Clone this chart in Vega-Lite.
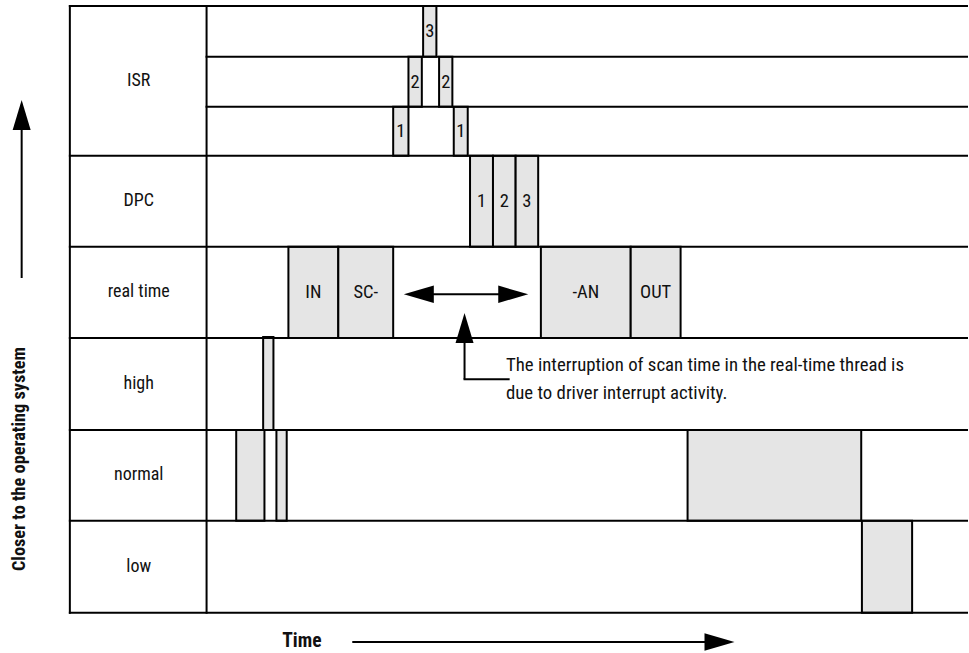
{
  "$schema": "https://vega.github.io/schema/vega-lite/v6.json",
  "width": 969,
  "height": 653,
  "autosize": {"type": "fit", "contains": "padding"},
  "padding": 0,
  "background": "white",
  "config": {"view": {"stroke": null}, "font": "Roboto Condensed, DejaVu Sans Condensed, sans-serif"},
  "datasets": {
    "blocks": [
      {"row": "ISR", "t0": 394, "t1": 409.3, "top": 106.7, "bottom": 155.7, "label": "1"},
      {"row": "ISR", "t0": 409.3, "t1": 422.7, "top": 56.7, "bottom": 106.7, "label": "2"},
      {"row": "ISR", "t0": 424, "t1": 437.3, "top": 6, "bottom": 56.7, "label": "3"},
      {"row": "ISR", "t0": 440, "t1": 453.3, "top": 56.7, "bottom": 106.7, "label": "2"},
      {"row": "ISR", "t0": 454.7, "t1": 468.7, "top": 106.7, "bottom": 155.7, "label": "1"},
      {"row": "DPC", "t0": 471, "t1": 494, "top": 155.7, "bottom": 246.7, "label": "1"},
      {"row": "DPC", "t0": 494, "t1": 516.7, "top": 155.7, "bottom": 246.7, "label": "2"},
      {"row": "DPC", "t0": 516.7, "t1": 539.3, "top": 155.7, "bottom": 246.7, "label": "3"},
      {"row": "real time", "t0": 289, "t1": 339, "top": 246.7, "bottom": 338, "label": "IN"},
      {"row": "real time", "t0": 339, "t1": 394, "top": 246.7, "bottom": 338, "label": "SC-"},
      {"row": "real time", "t0": 542, "t1": 632, "top": 246.7, "bottom": 338, "label": "-AN"},
      {"row": "real time", "t0": 632, "t1": 682, "top": 246.7, "bottom": 338, "label": "OUT"},
      {"row": "high", "t0": 263.7, "t1": 274, "top": 337, "bottom": 430, "label": ""},
      {"row": "normal", "t0": 236.7, "t1": 265, "top": 430, "bottom": 520.7, "label": ""},
      {"row": "normal", "t0": 277, "t1": 287.3, "top": 430, "bottom": 520.7, "label": ""},
      {"row": "normal", "t0": 689, "t1": 863, "top": 430, "bottom": 520.7, "label": ""},
      {"row": "low", "t0": 863.7, "t1": 914, "top": 520.7, "bottom": 612.7, "label": ""}
    ],
    "grid": [
      {"x0": 70, "x1": 969, "y0": 6, "y1": 6},
      {"x0": 207, "x1": 969, "y0": 56.7, "y1": 56.7},
      {"x0": 207, "x1": 969, "y0": 106.7, "y1": 106.7},
      {"x0": 70, "x1": 969, "y0": 155.7, "y1": 155.7},
      {"x0": 70, "x1": 969, "y0": 246.7, "y1": 246.7},
      {"x0": 70, "x1": 969, "y0": 338, "y1": 338},
      {"x0": 70, "x1": 969, "y0": 430, "y1": 430},
      {"x0": 70, "x1": 969, "y0": 520.7, "y1": 520.7},
      {"x0": 70, "x1": 969, "y0": 612.7, "y1": 612.7},
      {"x0": 70, "x1": 70, "y0": 6, "y1": 612.7},
      {"x0": 207, "x1": 207, "y0": 6, "y1": 612.7}
    ],
    "rows": [
      {"label": "ISR", "x": 139, "y": 81},
      {"label": "DPC", "x": 139, "y": 201},
      {"label": "real time", "x": 139, "y": 292},
      {"label": "high", "x": 139, "y": 384},
      {"label": "normal", "x": 139, "y": 475},
      {"label": "low", "x": 139, "y": 567}
    ],
    "shafts": [
      {"x0": 419, "x1": 515, "y0": 294.3, "y1": 294.3},
      {"x0": 465.5, "x1": 465.5, "y0": 335, "y1": 379.3},
      {"x0": 464.5, "x1": 510.7, "y0": 379.3, "y1": 379.3},
      {"x0": 21.7, "x1": 21.7, "y0": 120, "y1": 278},
      {"x0": 353, "x1": 722, "y0": 642, "y1": 642}
    ],
    "heads": [
      {"x": 419.7, "y": 294.3, "dir": "left"},
      {"x": 514.3, "y": 294.3, "dir": "right"},
      {"x": 465.5, "y": 328, "dir": "up"},
      {"x": 21.7, "y": 115, "dir": "up"},
      {"x": 721, "y": 642, "dir": "right"}
    ],
    "notes": [
      {"text": "The interruption of scan time in the real-time thread is", "x": 507, "y": 365},
      {"text": "due to driver interrupt activity.", "x": 507, "y": 393}
    ],
    "titles": [
      {"text": "Closer to the operating system", "x": 20, "y": 459, "angle": 270, "size": 18.3},
      {"text": "Time", "x": 302.5, "y": 641, "angle": 0, "size": 19.5}
    ]
  },
  "layer": [
    {
      "data": {"name": "blocks"},
      "mark": {"type": "rect", "fill": "#e5e5e5", "stroke": "black", "strokeWidth": 2},
      "encoding": {
        "x": {"field": "t0", "type": "quantitative", "scale": {"domain": [0, 969], "nice": false, "zero": false}, "axis": null},
        "x2": {"field": "t1"},
        "y": {"field": "top", "type": "quantitative", "scale": {"domain": [0, 653], "nice": false, "zero": false, "reverse": true}, "axis": null},
        "y2": {"field": "bottom"}
      }
    },
    {
      "data": {"name": "grid"},
      "mark": {"type": "rule", "stroke": "black", "strokeWidth": 2, "strokeCap": "square"},
      "encoding": {
        "x": {"field": "x0", "type": "quantitative"},
        "x2": {"field": "x1"},
        "y": {"field": "y0", "type": "quantitative"},
        "y2": {"field": "y1"}
      }
    },
    {
      "data": {"name": "blocks"},
      "transform": [
        {"calculate": "(datum.t0 + datum.t1) / 2", "as": "xm"},
        {"calculate": "(datum.top + datum.bottom) / 2", "as": "ym"}
      ],
      "mark": {"type": "text", "fontSize": 18.5, "color": "#111", "align": "center", "baseline": "middle"},
      "encoding": {
        "x": {"field": "xm", "type": "quantitative"},
        "y": {"field": "ym", "type": "quantitative"},
        "text": {"field": "label"}
      }
    },
    {
      "data": {"name": "rows"},
      "mark": {"type": "text", "fontSize": 18, "color": "#111", "align": "center", "baseline": "middle"},
      "encoding": {
        "x": {"field": "x", "type": "quantitative"},
        "y": {"field": "y", "type": "quantitative"},
        "text": {"field": "label"}
      }
    },
    {
      "data": {"name": "shafts"},
      "mark": {"type": "rule", "stroke": "black", "strokeWidth": 2},
      "encoding": {
        "x": {"field": "x0", "type": "quantitative"},
        "x2": {"field": "x1"},
        "y": {"field": "y0", "type": "quantitative"},
        "y2": {"field": "y1"}
      }
    },
    {
      "data": {"name": "heads"},
      "mark": {"type": "point", "filled": true, "color": "black", "opacity": 1, "size": 900, "strokeWidth": 0},
      "encoding": {
        "x": {"field": "x", "type": "quantitative"},
        "y": {"field": "y", "type": "quantitative"},
        "shape": {
          "field": "dir",
          "type": "nominal",
          "legend": null,
          "scale": {
            "domain": ["left", "right", "up"],
            "range": ["M -1 0 L 1 -0.58 L 1 0.58 Z", "M 1 0 L -1 -0.58 L -1 0.58 Z", "M 0 -1 L 0.6 1 L -0.6 1 Z"]
          }
        }
      }
    },
    {
      "data": {"name": "notes"},
      "mark": {"type": "text", "fontSize": 18.8, "color": "#111", "align": "left", "baseline": "middle"},
      "encoding": {
        "x": {"field": "x", "type": "quantitative"},
        "y": {"field": "y", "type": "quantitative"},
        "text": {"field": "text"}
      }
    },
    {
      "data": {"name": "titles"},
      "mark": {"type": "text", "fontWeight": "bold", "color": "#111", "align": "center", "baseline": "middle"},
      "encoding": {
        "x": {"field": "x", "type": "quantitative"},
        "y": {"field": "y", "type": "quantitative"},
        "text": {"field": "text"},
        "angle": {"field": "angle", "type": "quantitative", "scale": null},
        "size": {"field": "size", "type": "quantitative", "scale": null}
      }
    }
  ]
}
